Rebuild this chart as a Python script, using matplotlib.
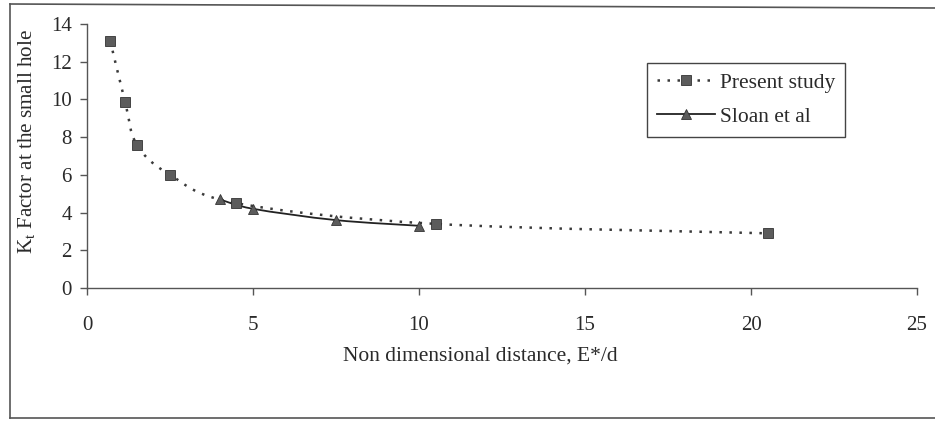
import matplotlib
matplotlib.use("Agg")
import matplotlib.pyplot as plt
from matplotlib.path import Path
from matplotlib.patches import PathPatch
from matplotlib.lines import Line2D
import numpy as np

# ---- data ----
present_x = [0.7, 1.15, 1.5, 2.5, 4.5, 10.5, 20.5]
present_y = [13.1, 9.85, 7.6, 6.0, 4.5, 3.4, 2.9]
sloan_x = [4.0, 5.0, 7.5, 10.0]
sloan_y = [4.7, 4.2, 3.6, 3.3]
x_ticks = [0, 5, 10, 15, 20, 25]
y_ticks = [0, 2, 4, 6, 8, 10, 12, 14]
x_label = "Non dimensional distance, E*/d"
y_label = "K$_\\mathregular{t}$ Factor at the small hole"
labels = ["Present study", "Sloan et al"]

plt.rcParams['font.family'] = ['Liberation Serif', 'DejaVu Serif']
plt.rcParams['mathtext.fontset'] = 'custom'
plt.rcParams['mathtext.rm'] = 'Liberation Serif'

W, H = 935, 421
fig = plt.figure(figsize=(W / 100, H / 100), dpi=100)
fig.patch.set_facecolor('white')

# axes placement (pixels)
left, right, top, bottom = 87, 917, 24, 288
ax = fig.add_axes([left / W, 1 - bottom / H, (right - left) / W, (bottom - top) / H])


def smooth_path(xs, ys):
    """Excel-like smoothed line as cubic Bezier segments (Catmull-Rom)."""
    pts = np.column_stack([xs, ys]).astype(float)
    n = len(pts)
    verts = [pts[0]]
    codes = [Path.MOVETO]
    for i in range(n - 1):
        p0 = pts[i - 1] if i > 0 else pts[i]
        p1 = pts[i]
        p2 = pts[i + 1]
        p3 = pts[i + 2] if i + 2 < n else pts[i + 1]
        c1 = p1 + (p2 - p0) / 6.0
        c2 = p2 - (p3 - p1) / 6.0
        verts += [c1, c2, p2]
        codes += [Path.CURVE4] * 3
    return Path(verts, codes)


line_col = '#3a3a3a'
mark_col = '#5c5c5c'
txt_col = '#2a2a2a'

# Present study: dotted smoothed line + squares
pp = PathPatch(smooth_path(present_x, present_y), facecolor='none', edgecolor=line_col,
               lw=1.8, linestyle=(0, (1, 3)), capstyle='butt', zorder=2)
ax.add_patch(pp)
ax.plot(present_x, present_y, linestyle='none', marker='s', markersize=6.5,
        markerfacecolor=mark_col, markeredgecolor='#333333', markeredgewidth=0.6, zorder=4)

# Sloan et al: solid smoothed line + triangles
sp = PathPatch(smooth_path(sloan_x, sloan_y), facecolor='none', edgecolor='#222222',
               lw=1.3, zorder=3)
ax.add_patch(sp)
ax.plot(sloan_x, sloan_y, linestyle='none', marker='^', markersize=6.5,
        markerfacecolor=mark_col, markeredgecolor='#333333', markeredgewidth=0.6, zorder=4)

ax.set_xlim(0, 25)
ax.set_ylim(0, 14)
ax.set_xticks(x_ticks)
ax.set_yticks(y_ticks)
ax.set_xticklabels([str(v) for v in x_ticks])
ax.set_yticklabels([str(v) for v in y_ticks])

for s in ['top', 'right']:
    ax.spines[s].set_visible(False)
for s in ['left', 'bottom']:
    ax.spines[s].set_color('#555555')
    ax.spines[s].set_linewidth(1.0)
ax.tick_params(axis='both', direction='out', length=5, width=1.0, color='#555555',
               labelsize=15, labelcolor=txt_col)
ax.tick_params(axis='x', pad=15)
ax.tick_params(axis='y', pad=6)

ax.set_xlabel(x_label, fontsize=15.5, color=txt_col, va='center')
ax.xaxis.set_label_coords((480 - left) / (right - left), (bottom - 356) / (bottom - top))
ax.set_ylabel(y_label, fontsize=15.2, color=txt_col, va='center')
ax.yaxis.set_label_coords((27 - left) / (right - left), (bottom - 141) / (bottom - top))

# legend
h1 = Line2D([], [], color=line_col, lw=1.8, linestyle=(0, (1, 3)), marker='s',
            markersize=6.5, markerfacecolor=mark_col, markeredgecolor='#333333',
            markeredgewidth=0.6)
h2 = Line2D([], [], color='#222222', lw=1.3, marker='^', markersize=6.5,
            markerfacecolor=mark_col, markeredgecolor='#333333', markeredgewidth=0.6)
leg = ax.legend([h1, h2], labels, loc='upper right',
                bbox_to_anchor=((845 - left) / (right - left), (bottom - 63) / (bottom - top)),
                fontsize=15.5, frameon=True, fancybox=False, framealpha=1,
                edgecolor='#444444', handlelength=2.7, handletextpad=0.25,
                labelspacing=0.65, borderpad=0.45, borderaxespad=0)
leg.get_frame().set_linewidth(1.0)
for t in leg.get_texts():
    t.set_color(txt_col)

# outer chart border (left, top, bottom visible)
bc = '#555555'
fig.add_artist(Line2D([10 / W, 10 / W], [1 - 4 / H, 1 - 418 / H], color=bc, lw=1.2,
                      transform=fig.transFigure))
fig.add_artist(Line2D([10 / W, 1.0], [1 - 4 / H, 1 - 8 / H], color=bc, lw=1.2,
                      transform=fig.transFigure))
fig.add_artist(Line2D([10 / W, 1.0], [1 - 418 / H, 1 - 418 / H], color=bc, lw=1.2,
                      transform=fig.transFigure))

fig.savefig('out.png', dpi=100, facecolor='white')
